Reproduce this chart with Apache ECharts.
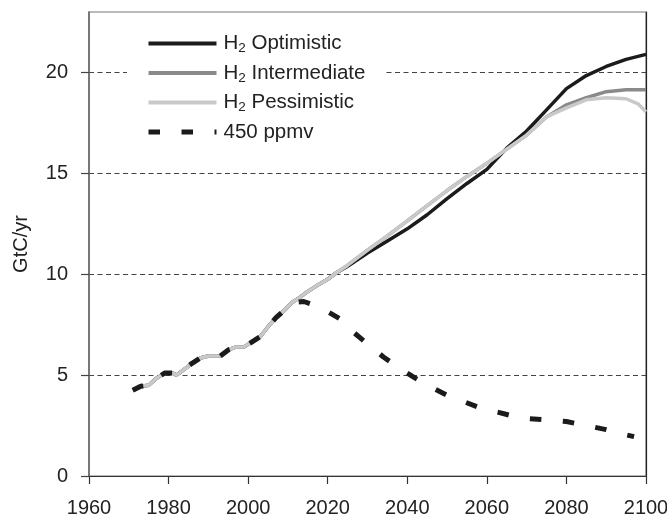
<!DOCTYPE html>
<html>
<head>
<meta charset="utf-8">
<script src="https://cdn.jsdelivr.net/npm/echarts@6/dist/echarts.min.js"></script>
<style>
  html, body { margin: 0; padding: 0; background: #fff; }
  #chart { width: 667px; height: 515px; }
</style>
</head>
<body>
<div id="chart"></div>
<script>
// Historical emissions shared by every scenario (GtC/yr)
const histYears  = [1971, 1973, 1975, 1977, 1979, 1981, 1982, 1984, 1986, 1988, 1990, 1993, 1995, 1997, 1999, 2001, 2003, 2005, 2007, 2009, 2011, 2013, 2015, 2017, 2020, 2022];
const histValues = [4.25, 4.45, 4.5, 4.85, 5.1, 5.1, 5.0, 5.3, 5.6, 5.85, 5.95, 5.95, 6.25, 6.4, 6.4, 6.65, 6.9, 7.4, 7.85, 8.2, 8.6, 8.85, 9.15, 9.4, 9.75, 10.05];

// Projections for the hydrogen scenarios
const futureYears        = [2025, 2030, 2035, 2040, 2045, 2050, 2055, 2060, 2065, 2070, 2075, 2080, 2085, 2090, 2095, 2098, 2100];
const optimisticValues   = [10.4, 11.05, 11.65, 12.25, 12.95, 13.75, 14.5, 15.2, 16.25, 17.1, 18.15, 19.2, 19.85, 20.3, 20.65, 20.8, 20.9];
const intermediateValues = [10.45, 11.2, 11.9, 12.65, 13.4, 14.15, 14.85, 15.5, 16.2, 16.9, 17.8, 18.4, 18.75, 19.05, 19.15, 19.15, 19.15];
const pessimisticValues  = [10.45, 11.2, 11.9, 12.65, 13.4, 14.15, 14.85, 15.5, 16.2, 16.9, 17.8, 18.25, 18.65, 18.75, 18.7, 18.45, 18.05];

// 450 ppmv stabilisation path (history until the peak, then decline)
const ppmvHistEnd = 2011;
const ppmvYears  = [2014, 2017, 2020, 2023, 2026, 2030, 2034, 2038, 2042, 2046, 2050, 2054, 2058, 2062, 2066, 2070, 2075, 2080, 2085, 2090, 2094, 2097];
const ppmvValues = [8.65, 8.45, 8.15, 7.8, 7.2, 6.55, 5.9, 5.35, 4.85, 4.4, 4.0, 3.7, 3.4, 3.2, 3.0, 2.85, 2.78, 2.7, 2.5, 2.3, 2.08, 1.95];

const yTicks = [0, 5, 10, 15, 20];
const seriesNames = ['H2 Optimistic', 'H2 Intermediate', 'H2 Pessimistic', '450 ppmv'];

const pairs = (xs, ys) => xs.map((x, i) => [x, ys[i]]);
const history = pairs(histYears, histValues);
const scenario = vals => history.concat(pairs(futureYears, vals));
const ppmv = history.filter(p => p[0] <= ppmvHistEnd).concat(pairs(ppmvYears, ppmvValues));

const FONT = '"Liberation Sans", Arial, Helvetica, sans-serif';
const DASH = [11.5, 21.5];
const chart = echarts.init(document.getElementById('chart'), null, { renderer: 'canvas' });

const lineSeries = (name, data, color, width, type) => ({
  name, type: 'line', data,
  showSymbol: false, symbol: 'none', smooth: false,
  lineStyle: { color, width, type: type || 'solid', cap: 'butt', join: 'round' },
  itemStyle: { color },
  emphasis: { disabled: true },
  animation: false
});

chart.setOption({
  animation: false,
  backgroundColor: '#fff',
  textStyle: { fontFamily: FONT },
  grid: {
    left: 89, right: 21, top: 12, bottom: 39,
    outerBoundsMode: 'none', containLabel: false,
    show: true, borderColor: '#777', borderWidth: 1.2
  },
  legend: {
    data: [
      { name: seriesNames[0], lineStyle: { width: 4 } },
      { name: seriesNames[1], lineStyle: { width: 4 } },
      { name: seriesNames[2], lineStyle: { width: 4 } },
      { name: seriesNames[3], lineStyle: { width: 5, type: DASH } }
    ],
    orient: 'vertical',
    left: 127,
    top: 25,
    padding: [8, 18, 8, 19],
    backgroundColor: '#fff',
    itemWidth: 68,
    itemHeight: 14,
    itemGap: 7,
    selectedMode: false,
    itemStyle: { opacity: 0, borderWidth: 0 },
    formatter: name => name.startsWith('H2 ')
      ? '{m|H}{s|2}{m| ' + name.slice(3) + '}'
      : '{m|' + name + '}',
    textStyle: {
      color: '#222',
      fontFamily: FONT,
      padding: [0, 0, 0, 2],
      rich: {
        m: { fontSize: 20.5, lineHeight: 24, color: '#222', fontFamily: FONT },
        s: { fontSize: 13.5, lineHeight: 13, verticalAlign: 'bottom', color: '#222', fontFamily: FONT }
      }
    }
  },
  xAxis: {
    type: 'value',
    min: 1960, max: 2100, interval: 20,
    axisLine: { show: true, onZero: false, lineStyle: { color: '#333', width: 1.2 } },
    axisTick: { show: true, inside: false, length: 8, lineStyle: { color: '#333', width: 1.2 } },
    axisLabel: { margin: 22, fontSize: 20, color: '#222', fontFamily: FONT, formatter: v => String(v) },
    splitLine: { show: false }
  },
  yAxis: [{
    type: 'value',
    min: 0, max: 23, interval: 5,
    name: 'GtC/yr',
    nameLocation: 'middle',
    nameGap: 58,
    nameTextStyle: { fontSize: 20, color: '#222', fontFamily: FONT },
    axisLine: { show: true, lineStyle: { color: '#666', width: 1.5 } },
    axisTick: { show: true, length: 8, customValues: yTicks, lineStyle: { color: '#444', width: 1.2 } },
    axisLabel: { margin: 21, fontSize: 20, color: '#222', fontFamily: FONT, customValues: yTicks, formatter: v => String(v) },
    splitLine: { show: true, lineStyle: { color: '#444', width: 1, type: [5, 3.5] } }
  }, {
    type: 'value',
    position: 'right',
    min: 0, max: 23,
    axisLine: { show: true, lineStyle: { color: '#222', width: 1.2 } },
    axisTick: { show: false },
    axisLabel: { show: false },
    splitLine: { show: false }
  }],
  series: [
    lineSeries(seriesNames[0], scenario(optimisticValues), '#1b1b1b', 3.5),
    lineSeries(seriesNames[1], scenario(intermediateValues), '#8a8a8a', 3.5),
    lineSeries(seriesNames[2], scenario(pessimisticValues), '#c9c9c9', 3.5),
    lineSeries(seriesNames[3], ppmv, '#1b1b1b', 5, DASH)
  ]
});
</script>
</body>
</html>
